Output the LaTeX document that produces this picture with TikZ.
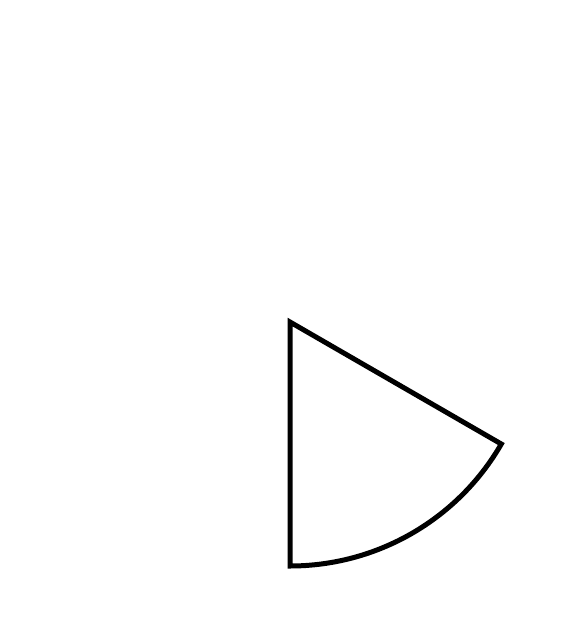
\documentclass[tikz,border=0pt]{standalone}
\begin{document}
\begin{tikzpicture}[x=1pt,y=-1pt,
  sectorline/.style={draw=black,line width=5pt,line join=miter}]
\useasboundingbox (0,0) rectangle (585,640);
\coordinate (c) at (290,322);
\draw[sectorline] (c) -- ++(30:244) arc[start angle=30,end angle=90,radius=244] -- cycle;
\end{tikzpicture}
\end{document}
